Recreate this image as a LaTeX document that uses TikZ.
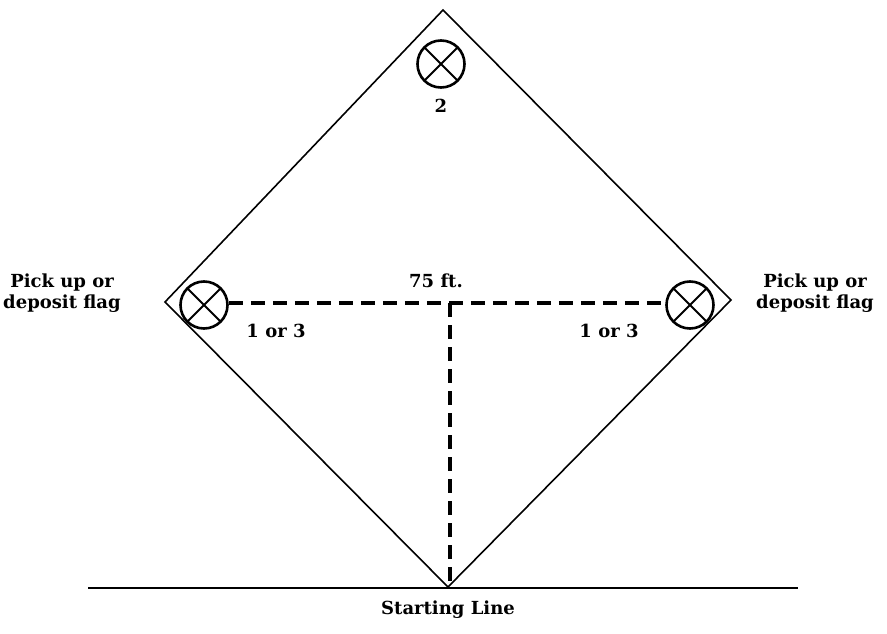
\documentclass[tikz,border=0pt]{standalone}
\usepackage{fontspec}
\setmainfont{DejaVu Serif}
\usetikzlibrary{positioning,calc}

\begin{document}
\begin{tikzpicture}[
  x=1pt, y=-1pt,
  every node/.style={font=\fontsize{18}{21}\selectfont\bfseries},
  field/.style={line width=1.6pt},
  flag/.style={circle, draw, line width=2.6pt, minimum size=47pt, inner sep=0pt,
               path picture={\draw[line width=2pt]
                 (path picture bounding box.north west) -- (path picture bounding box.south east)
                 (path picture bounding box.north east) -- (path picture bounding box.south west);}},
  measure/.style={line width=3.4pt, dash pattern=on 14pt off 8pt},
  note/.style={align=center, inner sep=0pt}
]
  \useasboundingbox (0,0) rectangle (887,634);

  % field corners
  \coordinate (top)    at (443,10);
  \coordinate (left)   at (165,302);
  \coordinate (right)  at (731,300);
  \coordinate (bottom) at (448,587);
  \draw[field] (top) -- (right) -- (bottom) -- (left) -- cycle;

  % starting line
  \coordinate (startw) at (88,588);
  \coordinate (starte) at (798,588);
  \draw[line width=2.4pt] (startw) -- (starte);
  \node[below=10pt of bottom] (start) {Starting Line};

  % flags
  \node[flag] (flag2) at (441,64) {};
  \node[flag] (flagl) at (204,305) {};
  \node[flag] (flagr) at (690,305) {};
  \node[below=7pt of flag2] (lbl2) {2};
  \node (lbll) at (276,331) {1 or 3};
  \node (lblr) at (609,331) {1 or 3};
  \node[note] (notel) at (62,293) {Pick up or\\deposit flag};
  \node[note] (noter) at (815,293) {Pick up or\\deposit flag};

  % 75 ft measure
  \coordinate (tee) at (450,303);
  \draw[measure] (flagl.east |- tee) -- (flagr.west |- tee);
  \draw[measure] (tee) -- (tee |- bottom);
  \node (dist) at (436,281) {75 ft.};
\end{tikzpicture}
\end{document}
